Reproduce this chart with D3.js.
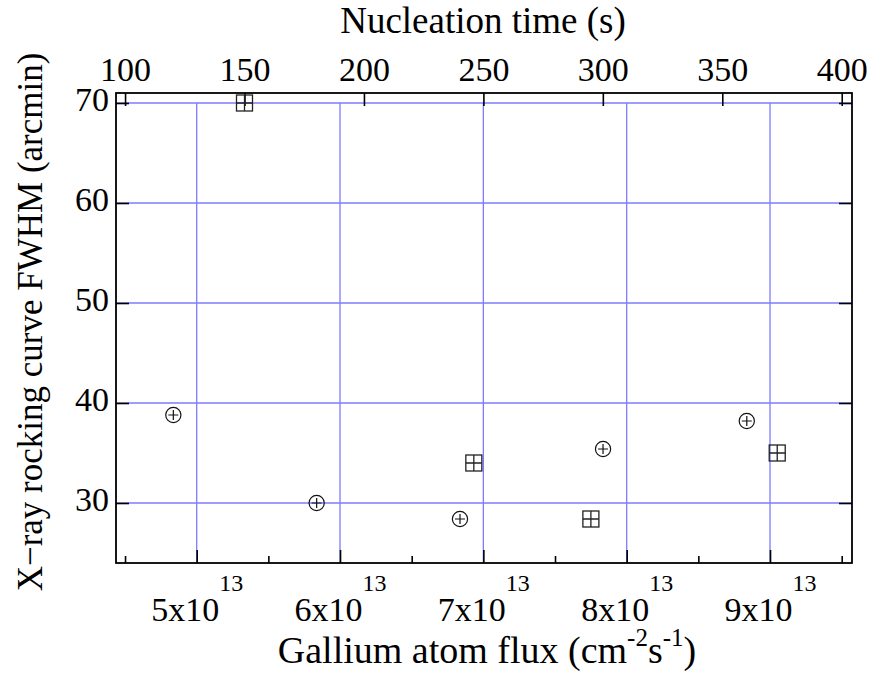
<!DOCTYPE html>
<html>
<head>
<meta charset="utf-8">
<script src="https://cdn.jsdelivr.net/npm/d3@7"></script>
<style>
  body { margin: 0; background: #fff; }
  svg text { font-family: "Liberation Serif", "DejaVu Serif", serif !important; fill: #000; }
</style>
</head>
<body>
<svg id="chart" width="872" height="673"></svg>
<script>
// circles: FWHM against gallium flux (bottom axis)
const fluxValues = [4.837e13, 5.837e13, 6.837e13, 7.835e13, 8.838e13];
const fwhmByFlux = [38.8, 30.0, 28.4, 35.4, 38.2];
// boxes: FWHM against nucleation time (top axis)
const nucleationTimes = [150, 246, 295, 373];
const fwhmByTime = [70.0, 34.0, 28.4, 35.0];

const fluxTicks = [5e13, 6e13, 7e13, 8e13, 9e13];
const fluxMinorTicks = [4.5e13, 5.5e13, 6.5e13, 7.5e13, 8.5e13, 9.5e13];
const timeTicks = [100, 150, 200, 250, 300, 350, 400];
const fwhmTicks = [30, 40, 50, 60, 70];

const serif = '"Liberation Serif", "DejaVu Serif", serif';
const margin = { top: 93, right: 20, bottom: 110, left: 116 };
const width = 872 - margin.left - margin.right;
const height = 673 - margin.top - margin.bottom;

const svg = d3.select('#chart');
const g = svg.append('g').attr('transform', `translate(${margin.left},${margin.top})`);

const x = d3.scaleLinear().domain([4.437e13, 9.572e13]).range([0, width]);
const xTop = d3.scaleLinear().domain([96.21, 404.3]).range([0, width]);
const y = d3.scaleLinear().domain([24, 71]).range([height, 0]);

// grid
const gridColor = '#7c7cff';
g.append('g').selectAll('line').data(fluxTicks).join('line')
  .attr('x1', d => x(d)).attr('x2', d => x(d))
  .attr('y1', y(24)).attr('y2', y(70))
  .attr('stroke', gridColor).attr('stroke-width', 1.3);
g.append('g').selectAll('line').data(fwhmTicks).join('line')
  .attr('x1', 0).attr('x2', width)
  .attr('y1', d => y(d)).attr('y2', d => y(d))
  .attr('stroke', gridColor).attr('stroke-width', 1.3);

// axes (ticks pointing inward)
const tickStyle = sel => {
  sel.attr('font-family', serif);
  sel.select('.domain').remove();
  sel.selectAll('.tick line').attr('stroke', '#000').attr('stroke-width', 1.6);
};

g.append('g').attr('transform', `translate(0,${height})`)
  .call(d3.axisBottom(x).tickValues(fluxMinorTicks).tickSize(-7).tickFormat(''))
  .call(tickStyle);

const bottomAxis = g.append('g').attr('transform', `translate(0,${height})`)
  .call(d3.axisBottom(x).tickValues(fluxTicks).tickSize(-13).tickPadding(0).tickFormat(''))
  .call(tickStyle);
bottomAxis.selectAll('.tick text').remove();
bottomAxis.selectAll('.tick').append('text')
  .attr('text-anchor', 'middle').attr('y', 58).attr('font-size', 34)
  .style('font-family', serif)
  .each(function (d) {
    const t = d3.select(this);
    t.append('tspan').text(`${Math.round(d / 1e13)}x10`);
    t.append('tspan').attr('dy', -30).attr('font-size', 24).text('13');
  });

const topAxis = g.append('g')
  .call(d3.axisTop(xTop).tickValues(timeTicks).tickSize(-13).tickFormat(d3.format('d')))
  .call(tickStyle);
topAxis.selectAll('.tick text').attr('font-size', 34).attr('fill', '#000')
  .attr('y', -12).attr('dy', 0).style('font-family', serif);

const leftAxis = g.append('g')
  .call(d3.axisLeft(y).tickValues(fwhmTicks).tickSize(-13).tickFormat(d3.format('d')))
  .call(tickStyle);
leftAxis.selectAll('.tick text').attr('font-size', 34).attr('fill', '#000')
  .attr('x', -7).attr('dy', 7).style('font-family', serif);

g.append('g').attr('transform', `translate(${width},0)`)
  .call(d3.axisRight(y).tickValues(fwhmTicks).tickSize(-13).tickFormat(''))
  .call(tickStyle);

// frame
g.append('rect').attr('width', width).attr('height', height)
  .attr('fill', 'none').attr('stroke', '#000').attr('stroke-width', 1.8);

// circle markers
const circles = g.append('g').selectAll('g')
  .data(fluxValues.map((f, i) => ({ f, v: fwhmByFlux[i] })))
  .join('g').attr('transform', d => `translate(${x(d.f)},${y(d.v)})`)
  .attr('stroke', '#111').attr('fill', 'none').attr('stroke-width', 1.2);
circles.append('circle').attr('r', 7.6);
circles.append('path').attr('d', 'M-5,0H5M0,-5V5');

// box markers
const boxes = g.append('g').selectAll('g')
  .data(nucleationTimes.map((t, i) => ({ t, v: fwhmByTime[i] })))
  .join('g').attr('transform', d => `translate(${xTop(d.t)},${y(d.v)})`)
  .attr('stroke', '#222').attr('fill', 'none').attr('stroke-width', 1.3);
boxes.append('rect').attr('x', -8).attr('y', -8).attr('width', 16).attr('height', 16);
boxes.append('path').attr('d', 'M-8,0H8M0,-8V8');

// titles
svg.append('text').attr('x', 483).attr('y', 33).attr('text-anchor', 'middle')
  .style('font-family', serif).attr('font-size', 37).text('Nucleation time (s)');

const xt = svg.append('text').attr('x', 487).attr('y', 663).attr('text-anchor', 'middle')
  .style('font-family', serif).attr('font-size', 38);
xt.append('tspan').text('Gallium atom flux (cm');
xt.append('tspan').attr('dy', -17).attr('font-size', 25).text('-2');
xt.append('tspan').attr('dy', 17).text('s');
xt.append('tspan').attr('dy', -17).attr('font-size', 25).text('-1');
xt.append('tspan').attr('dy', 17).text(')');

svg.append('text').attr('transform', 'translate(42,322) rotate(-90)')
  .attr('text-anchor', 'middle').style('font-family', serif).attr('font-size', 35)
  .text('X\u2212ray rocking curve FWHM (arcmin)');
</script>
</body>
</html>
